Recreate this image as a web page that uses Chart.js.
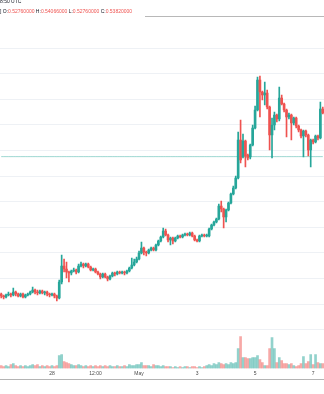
<!DOCTYPE html>
<html>
<head>
<meta charset="utf-8">
<script src="https://cdn.jsdelivr.net/npm/chart.js@4/dist/chart.umd.min.js"></script>
<style>
  html, body { margin: 0; padding: 0; background: #fff; overflow: hidden; }
  #wrap { position: relative; width: 324px; height: 394px; }
  #c { position: absolute; left: 0; top: 0; }
  .hd { position: absolute; left: 0; font-family: "Liberation Sans", Arial, sans-serif;
        font-size: 5px; line-height: 6px; color: #131722; white-space: nowrap; }
  .hd span { color: #ef5350; }
  #topline { position: absolute; left: 145px; right: 0; top: 16px; height: 1px; background: #b8b8b8; }
</style>
</head>
<body>
<div id="wrap">
  <canvas id="c" width="324" height="394"></canvas>
  <div id="topline"></div>
  <div class="hd" id="h1" style="top:-2px">8:50 UTC</div>
  <div class="hd" id="h2" style="top:8px"></div>
</div>
<script>
// 2-hour candles, 26 Apr 06:00 → 7 May 08:00
const opens = [
  .2699,.2660,.2641,.2680,.2699,.2680,.2738,.2699,.2660,.2699,
  .2641,.2680,.2699,.2738,.2777,.2738,.2719,.2758,.2719,.2738,
  .2699,.2680,.2699,.2660,.2621,.2934,.3246,.3188,.3129,.3109,
  .3148,.3168,.3129,.3246,.3285,.3246,.3285,.3226,.3168,.3188,
  .3129,.3090,.3031,.3090,.3031,.2992,.3051,.3109,.3090,.3129,
  .3109,.3129,.3109,.3148,.3207,.3266,.3324,.3383,.3500,.3598,
  .3520,.3500,.3559,.3598,.3559,.3656,.3734,.3813,.3930,.3852,
  .3754,.3793,.3734,.3793,.3832,.3813,.3852,.3871,.3852,.3891,
  .3832,.3754,.3734,.3832,.3852,.3832,.3832,.3969,.4047,.4106,
  .4164,.4418,.4359,.4203,.4340,.4477,.4652,.4770,.4965,.5707,
  .5375,.5688,.5414,.5375,.5609,.5941,.6293,.6879,.6645,.6586,
  .6625,.6352,.5805,.6000,.6195,.6117,.6527,.6410,.6293,.6156,
  .6195,.6039,.6137,.5981,.5902,.5785,.5883,.5805,.5512,.5707,
  .5668,.5785,.5746,.6313
];
const highs = [
  .2719,.2680,.2699,.2738,.2719,.2816,.2758,.2719,.2719,.2719,
  .2699,.2719,.2758,.2836,.2797,.2777,.2777,.2777,.2758,.2758,
  .2719,.2719,.2719,.2680,.2973,.3461,.3383,.3324,.3148,.3168,
  .3207,.3188,.3285,.3324,.3305,.3305,.3305,.3246,.3207,.3207,
  .3148,.3109,.3109,.3109,.3051,.3070,.3129,.3129,.3148,.3148,
  .3148,.3148,.3168,.3226,.3402,.3383,.3422,.3539,.3715,.3617,
  .3539,.3578,.3617,.3617,.3676,.3754,.3832,.3988,.3969,.3871,
  .3813,.3813,.3813,.3852,.3852,.3871,.3891,.3891,.3910,.3910,
  .3852,.3773,.3852,.3871,.3871,.3871,.3988,.4066,.4125,.4184,
  .4457,.4516,.4379,.4359,.4496,.4672,.4809,.5004,.5863,.6098,
  .5824,.5707,.5434,.5629,.6000,.6371,.6937,.6957,.6664,.6840,
  .6684,.6371,.6137,.6254,.6215,.6742,.6586,.6430,.6313,.6234,
  .6215,.6156,.6156,.6000,.5922,.5902,.5902,.5824,.5727,.5727,
  .5805,.5805,.6449,.6352
];
const lows = [
  .2621,.2602,.2621,.2660,.2641,.2660,.2660,.2641,.2641,.2621,
  .2621,.2660,.2680,.2719,.2699,.2680,.2699,.2699,.2680,.2660,
  .2641,.2660,.2621,.2563,.2602,.2895,.3129,.3012,.2934,.3070,
  .3129,.3090,.3109,.3226,.3207,.3226,.3207,.3148,.3148,.3109,
  .3070,.2992,.3012,.3012,.2953,.2973,.3031,.3051,.3070,.3090,
  .3090,.3070,.3090,.3129,.3188,.3246,.3305,.3363,.3480,.3461,
  .3441,.3480,.3539,.3539,.3539,.3637,.3715,.3793,.3832,.3715,
  .3656,.3676,.3715,.3773,.3793,.3793,.3832,.3832,.3832,.3813,
  .3734,.3715,.3715,.3813,.3813,.3813,.3813,.3949,.4027,.4086,
  .4145,.4301,.3988,.4105,.4320,.4457,.4633,.4750,.4945,.5258,
  .5355,.5180,.5316,.5336,.5590,.5922,.6273,.6156,.6488,.6391,
  .6312,.5512,.5355,.5902,.6059,.6078,.6391,.6254,.5766,.6117,
  .5707,.6000,.5941,.5863,.5746,.5375,.5766,.5395,.5180,.5629,
  .5648,.5707,.5727,.6215
];
const closes = [
  .2660,.2641,.2680,.2699,.2680,.2738,.2699,.2660,.2699,.2641,
  .2680,.2699,.2738,.2777,.2738,.2719,.2758,.2719,.2738,.2699,
  .2680,.2699,.2660,.2621,.2934,.3246,.3188,.3129,.3109,.3148,
  .3168,.3129,.3246,.3285,.3246,.3285,.3226,.3168,.3188,.3129,
  .3090,.3031,.3090,.3031,.2992,.3051,.3109,.3090,.3129,.3109,
  .3129,.3109,.3148,.3207,.3266,.3324,.3383,.3500,.3598,.3520,
  .3500,.3559,.3598,.3559,.3656,.3734,.3813,.3930,.3852,.3754,
  .3793,.3734,.3793,.3832,.3813,.3852,.3871,.3852,.3891,.3832,
  .3754,.3734,.3832,.3852,.3832,.3852,.3969,.4047,.4106,.4164,
  .4418,.4359,.4203,.4340,.4477,.4652,.4770,.4965,.5707,.5316,
  .5688,.5395,.5355,.5609,.5941,.6293,.6879,.6645,.6586,.6625,
  .6352,.5805,.6000,.6195,.6117,.6527,.6410,.6293,.6156,.6195,
  .6039,.6137,.5981,.5902,.5785,.5883,.5805,.5512,.5707,.5668,
  .5785,.5746,.6313,.6234
];
// volume per candle (×100k)
const volumes = [
  3,2,3,2,4,5,3,2,3,2, 3,2,3,4,3,4,2,3,2,3,
  2,3,2,3,13,14,7,6,5,4, 3,3,4,3,2,3,2,3,2,3,
  2,3,2,3,2,3,2,2,3,2, 2,3,2,4,3,3,4,4,6,3,
  3,3,2,4,3,3,2,3,2,2, 2,1,2,1,2,1,2,2,1,2,
  2,1,2,1,2,3,4,3,5,4, 6,5,4,5,4,6,5,6,20,32,
  11,11,10,10,11,11,13,9,6,3, 3,20,31,20,6,11,8,5,5,4,
  5,3,2,3,5,12,5,7,14,4, 14,6,5,5
];

// live bar shown in the legend line
const liveOpen = 0.5276, liveHigh = 0.54066, liveLow = 0.5276, liveClose = 0.5382;

// time-axis marks
const tickTimes  = ['Apr 28 00:00', 'Apr 29 12:00', 'May 1 00:00', 'May 3 00:00', 'May 5 00:00', 'May 7 00:00'];
const tickLabels = ['28', '12:00', 'May', '3', '5', '7'];

const UP = '#26a69a', DOWN = '#ef5350';
const UP_VOL = 'rgba(38,166,154,0.5)', DOWN_VOL = 'rgba(239,83,80,0.5)';
const GRID = '#eef1f5';

// category labels: one per 2h candle
const MONTHS = ['Jan','Feb','Mar','Apr','May','Jun','Jul','Aug','Sep','Oct','Nov','Dec'];
const t0 = Date.UTC(2021, 3, 26, 6);
const times = opens.map((_, i) => {
  const d = new Date(t0 + i * 2 * 3600 * 1000);
  return MONTHS[d.getUTCMonth()] + ' ' + d.getUTCDate() + ' ' +
         String(d.getUTCHours()).padStart(2, '0') + ':00';
});
const tickText = i => {
  const k = tickTimes.indexOf(times[i]);
  return k >= 0 ? tickLabels[k] : null;
};

const isUp = opens.map((o, i) => closes[i] >= o);
const bodies = opens.map((o, i) => [Math.min(o, closes[i]), Math.max(o, closes[i])]);
const wicks  = lows.map((l, i) => [l, highs[i]]);

// legend line
const fmt = v => v.toFixed(8);
document.getElementById('h2').innerHTML =
  '] O:<span>' + fmt(liveOpen) + '</span> H:<span>' + fmt(liveHigh) +
  '</span> L:<span>' + fmt(liveLow) + '</span> C:<span>' + fmt(liveClose) + '</span>';

const onStep = v => Math.abs(v / 0.05 - Math.round(v / 0.05)) < 1e-6;

new Chart(document.getElementById('c'), {
  type: 'bar',
  data: {
    labels: times,
    datasets: [
      { label: 'Body', data: bodies, backgroundColor: isUp.map(u => u ? UP : DOWN),
        barThickness: 2, grouped: false, order: 1, yAxisID: 'y' },
      { label: 'Wick', data: wicks, backgroundColor: isUp.map(u => u ? UP : DOWN),
        barThickness: 1, grouped: false, order: 2, yAxisID: 'y' },
      { type: 'line', label: 'Last', data: times.map(() => liveClose),
        borderColor: 'rgba(38,166,154,0.45)', borderWidth: 1, pointRadius: 0,
        order: 3, yAxisID: 'y' },
      { label: 'Volume', data: volumes, backgroundColor: isUp.map(u => u ? UP_VOL : DOWN_VOL),
        barThickness: 2, grouped: false, order: 4, yAxisID: 'yv' }
    ]
  },
  options: {
    responsive: false,
    animation: false,
    events: [],
    layout: { padding: { top: 17, bottom: 14.5, left: 0, right: 0 } },
    plugins: { legend: { display: false }, tooltip: { enabled: false } },
    scales: {
      x: {
        type: 'category', offset: true, position: 'bottom', weight: 0,
        grid: { offset: false, drawTicks: false,
                color: c => (tickText(c.index) ? GRID : 'rgba(0,0,0,0)') },
        border: { display: false },
        ticks: { autoSkip: false, maxRotation: 0, minRotation: 0, padding: 2.5,
                 color: '#4a4a4a', font: { family: 'Liberation Sans', size: 5 },
                 callback: (v, i) => tickText(i) }
      },
      xb: {
        type: 'category', position: 'bottom', weight: 1,
        grid: { display: false, drawTicks: false },
        border: { display: true, color: '#b4b4b4', width: 1 },
        ticks: { display: false }
      },
      y: {
        min: 0.1244, max: 0.8109, position: 'right',
        grid: { drawTicks: false,
                color: c => (c.tick && onStep(c.tick.value) ? GRID : 'rgba(0,0,0,0)') },
        border: { display: false },
        ticks: { display: false, stepSize: 0.05 }
      },
      yv: { min: 0, max: Math.max(...volumes) * 11, display: false }
    }
  }
});
</script>
</body>
</html>
